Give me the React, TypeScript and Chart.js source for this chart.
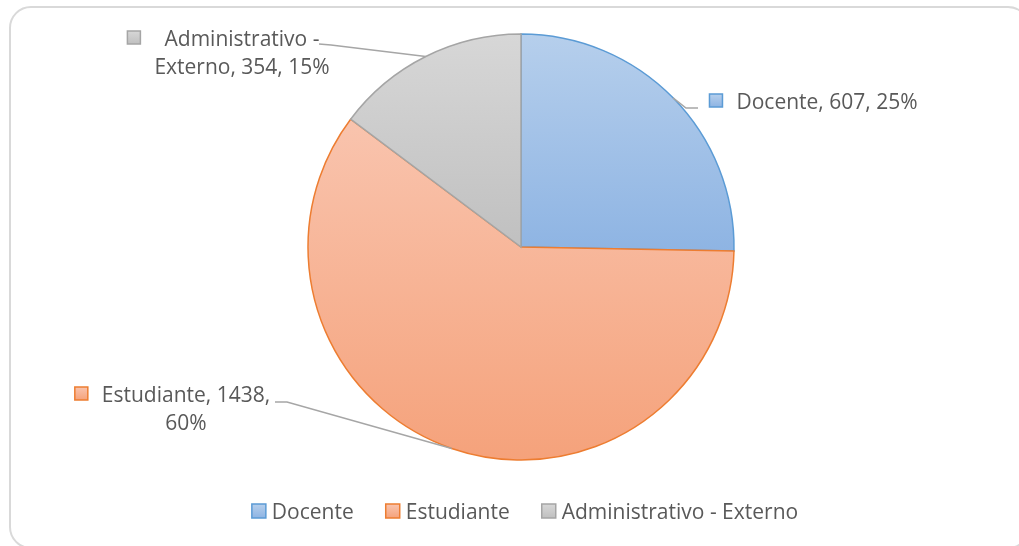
import React, { useEffect, useRef } from "react";
import { Chart, registerables } from "chart.js";

Chart.register(...registerables);

const categories = ["Docente", "Estudiante", "Administrativo - Externo"];
const values = [607, 1438, 354];
const borderColors = ["#5b9bd5", "#ed7d31", "#a5a5a5"];
const gradientTop = ["#b6cfec", "#f9c4ae", "#d7d7d7"];
const gradientBottom = ["#8eb4e3", "#f5a27b", "#c0c0c0"];

const FONT = "'Open Sans', 'Noto Sans', sans-serif";
const TEXT_COLOR = "#595959";
const PIE_RADIUS = 213;

// label placement (centre of text block, first baseline, wrap width, leader anchor points)
const labelLayout = [
  { cx: 827, base: 109, wrap: 400, leader: [[698, 108], [686, 108]] },
  { cx: 186, base: 402, wrap: 190, leader: [[275, 402], [287, 402]] },
  { cx: 242, base: 46, wrap: 190, leader: [[319, 44], [331, 45]] },
];

function total() {
  return values.reduce((a, b) => a + b, 0);
}

function sliceBounds(i: number, cx: number, cy: number, r: number) {
  const t = total();
  let cum = 0;
  for (let k = 0; k < i; k++) cum += values[k];
  const s = -Math.PI / 2 + (cum / t) * Math.PI * 2;
  const e = s + (values[i] / t) * Math.PI * 2;
  const ys = [cy, cy + r * Math.sin(s), cy + r * Math.sin(e)];
  for (const a of [-Math.PI / 2, Math.PI / 2, (3 * Math.PI) / 2]) {
    if (a > s && a < e) ys.push(cy + r * Math.sin(a));
  }
  return { top: Math.min(...ys), bottom: Math.max(...ys) };
}

function makeGradient(ctx: CanvasRenderingContext2D, top: number, bottom: number, i: number) {
  const g = ctx.createLinearGradient(0, top, 0, bottom);
  g.addColorStop(0, gradientTop[i]);
  g.addColorStop(1, gradientBottom[i]);
  return g;
}

function wrapText(ctx: CanvasRenderingContext2D, text: string, maxW: number) {
  const words = text.split(" ");
  const lines: string[] = [];
  let cur = "";
  for (const w of words) {
    const test = cur ? cur + " " + w : w;
    if (ctx.measureText(test).width > maxW && cur) {
      lines.push(cur);
      cur = w;
    } else cur = test;
  }
  if (cur) lines.push(cur);
  return lines;
}

const labelPlugin = {
  id: "excelLabels",
  afterDatasetsDraw(chart: any) {
    const ctx: CanvasRenderingContext2D = chart.ctx;
    const meta = chart.getDatasetMeta(0);
    const t = total();
    ctx.save();
    ctx.font = `21px ${FONT}`;
    ctx.textBaseline = "alphabetic";
    meta.data.forEach((arc: any, i: number) => {
      const L = labelLayout[i];
      const mid = (arc.startAngle + arc.endAngle) / 2;
      const ex = arc.x + arc.outerRadius * Math.cos(mid);
      const ey = arc.y + arc.outerRadius * Math.sin(mid);
      // leader line
      ctx.strokeStyle = "#a6a6a6";
      ctx.lineWidth = 1.5;
      ctx.beginPath();
      ctx.moveTo(L.leader[0][0], L.leader[0][1]);
      ctx.lineTo(L.leader[1][0], L.leader[1][1]);
      ctx.lineTo(ex, ey);
      ctx.stroke();
      // text
      const pct = Math.round((values[i] / t) * 100);
      const text = `${categories[i]}, ${values[i]}, ${pct}%`;
      const lines = wrapText(ctx, text, L.wrap);
      const widths = lines.map((l) => ctx.measureText(l).width);
      const maxW = Math.max(...widths);
      const left = L.cx - maxW / 2;
      ctx.fillStyle = TEXT_COLOR;
      ctx.textAlign = "center";
      lines.forEach((l, k) => ctx.fillText(l, L.cx, L.base + k * 28));
      // legend key box
      const bs = 13;
      const bx = left - 14 - bs;
      const by = L.base - 15;
      ctx.fillStyle = makeGradient(ctx, by, by + bs, i);
      ctx.fillRect(bx, by, bs, bs);
      ctx.strokeStyle = borderColors[i];
      ctx.lineWidth = 1.5;
      ctx.strokeRect(bx, by, bs, bs);
    });
    ctx.restore();
  },
  afterDraw(chart: any) {
    const ctx: CanvasRenderingContext2D = chart.ctx;
    ctx.save();
    ctx.font = `21px ${FONT}`;
    ctx.textBaseline = "alphabetic";
    ctx.textAlign = "left";
    const bs = 14;
    const gapBox = 6;
    const gapItem = 32;
    const widths = categories.map((c) => ctx.measureText(c).width);
    const totalW =
      widths.reduce((a, w) => a + bs + gapBox + w, 0) + gapItem * (categories.length - 1);
    let x = 525 - totalW / 2;
    const base = 519;
    categories.forEach((c, i) => {
      const by = 504;
      ctx.fillStyle = makeGradient(ctx, by, by + bs, i);
      ctx.fillRect(x, by, bs, bs);
      ctx.strokeStyle = borderColors[i];
      ctx.lineWidth = 1.5;
      ctx.strokeRect(x, by, bs, bs);
      ctx.fillStyle = TEXT_COLOR;
      ctx.fillText(c, x + bs + gapBox, base);
      x += bs + gapBox + widths[i] + gapItem;
    });
    ctx.restore();
  },
};

export default function App() {
  const ref = useRef<HTMLCanvasElement>(null);
  useEffect(() => {
    if (!ref.current) return;
    const chart = new Chart(ref.current, {
      type: "pie",
      data: {
        labels: categories,
        datasets: [
          {
            data: values,
            backgroundColor: (c: any) => {
              const area = c.chart.chartArea;
              if (!area) return gradientTop[c.dataIndex];
              const cx = (area.left + area.right) / 2;
              const cy = (area.top + area.bottom) / 2;
              const b = sliceBounds(c.dataIndex, cx, cy, PIE_RADIUS);
              return makeGradient(c.chart.ctx, b.top, b.bottom, c.dataIndex);
            },
            borderColor: borderColors,
            borderWidth: 1.5,
            borderJoinStyle: "miter",
          } as any,
        ],
      },
      options: {
        responsive: false,
        animation: false,
        radius: PIE_RADIUS,
        layout: { padding: { top: 34, bottom: 86, left: 23, right: 0 } },
        plugins: {
          legend: { display: false },
          tooltip: { enabled: false },
        },
      } as any,
      plugins: [labelPlugin],
    });
    return () => chart.destroy();
  }, []);
  return (
    <div
      style={{
        position: "fixed",
        left: 0,
        top: 0,
        width: 1019,
        height: 546,
        overflow: "hidden",
        background: "#fff",
      }}
    >
      <div
        style={{
          position: "absolute",
          left: 9,
          top: 6,
          width: 1021,
          height: 543,
          boxSizing: "border-box",
          border: "2px solid #d9d9d9",
          borderRadius: 22,
        }}
      />
      <canvas
        ref={ref}
        width={1019}
        height={546}
        style={{ position: "absolute", left: 0, top: 0, width: 1019, height: 546 }}
      />
    </div>
  );
}
